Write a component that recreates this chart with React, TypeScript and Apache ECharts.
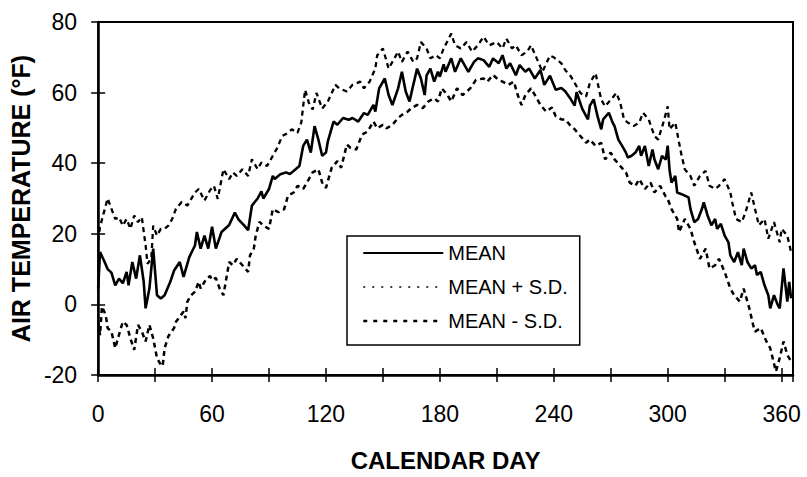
import React, { useEffect, useRef } from 'react';
import * as echarts from 'echarts';

const FONT = '"Liberation Sans", Arial, Helvetica, sans-serif';

const xTicks = [0, 60, 120, 180, 240, 300, 360];
const yTicks = [-20, 0, 20, 40, 60, 80];
const seriesNames = ['MEAN', 'MEAN + S.D.', 'MEAN - S.D.'];

// [calendar day, temperature °F]
const meanSeries = [[0,4.5],[1,14.8],[3,12.5],[5,10],[7,9],[9,5.4],[11,7.3],[13,6],[15,9.2],[16,5.4],[18,12],[20,7.3],[22,13.9],[24,6.4],[25,-1.1],[27,4.5],[29,15.8],[31,2.6],[33,1.7],[35,2.6],[38,6.4],[40,9.6],[43,12],[45,7.8],[48,13.4],[51,16.7],[52,20.5],[54,15.8],[56,19.5],[58,15.8],[60,22],[62,15.8],[65,20.5],[67,21.5],[69,22.5],[72,26],[74,24],[77,22.3],[79,21],[81,28],[84,30],[86,32],[87,30],[90,32.7],[92,36.4],[93,35.5],[96,36.9],[99,37.4],[101,36.9],[104,38.3],[106,39.2],[108,44.9],[110,46.7],[112,43],[114,50.5],[116,46.7],[118,42.1],[120,43],[121,46.2],[124,51.8],[126,50.9],[129,52.8],[132,52.3],[134,52.8],[137,51.8],[140,54.2],[142,53.7],[145,56.5],[146,54.6],[148,61.2],[151,64],[153,59.3],[155,56.5],[158,61.2],[160,65.9],[162,60.3],[164,57.5],[166,62.2],[168,66.8],[170,64],[172,59.3],[173,64.9],[175,66.8],[177,63.1],[179,65.9],[180,64.5],[182,68],[183,65.9],[186,69.7],[188,65.9],[191,69.7],[193,67.8],[195,65.9],[198,68.7],[200,69.7],[203,69.2],[206,67.3],[208,69.7],[211,68.3],[213,70.6],[215,66.8],[217,68.3],[220,64.9],[222,67.8],[225,65.9],[227,66.8],[230,64],[233,66.4],[235,62.2],[238,64.8],[241,60.8],[244,61.3],[246,60.4],[249,58.1],[251,56.3],[252,60.1],[255,55.4],[258,52.4],[259,56.3],[261,58.1],[263,53.4],[265,49.6],[266,52.4],[269,54.3],[271,51.5],[272,50.5],[274,46.7],[276,44.9],[278,43],[279,41.6],[281,42.1],[283,43],[285,44.9],[286,42.1],[288,44.9],[290,39.2],[292,43.9],[293,41.1],[295,38.3],[297,42.1],[299,41],[300,45],[301,38],[302,34.5],[304,36.4],[305,31.7],[307,31.3],[309,30.8],[311,30.3],[312,27],[314,23.3],[316,24.2],[318,27],[319,28.9],[321,25.2],[323,22.4],[325,24.2],[326,21.4],[328,22.8],[330,19.5],[332,17.6],[333,13.9],[335,12],[337,14.8],[339,11.1],[340,15.8],[342,12],[344,10.2],[346,11.1],[347,8.3],[349,9.2],[351,5.4],[353,2.6],[354,-1.1],[356,2.6],[358,-0.2],[359,-1.1],[361,10.2],[363,0.8],[364,6.4],[365,1.7]];

const upperSeries = [[0,18],[1,22],[3,26],[5,30],[7,27.1],[9,24.2],[11,24.7],[13,22.3],[15,24.2],[17,21.4],[19,25.2],[21,23.3],[23,24.7],[25,16.7],[26,11.5],[28,13],[29,22.3],[31,19.5],[33,21.4],[35,21.4],[37,22.3],[39,24.2],[41,27.1],[44,29],[47,28],[51,31.7],[53,32.7],[56,29.4],[59,32.4],[61,33.6],[63,29.9],[66,38.3],[69,35.5],[71,37.4],[73,36.4],[76,38.3],[79,36.4],[81,41.1],[84,38.3],[86,40.2],[89,39.2],[92,42.1],[94,44],[97,47.7],[100,48.6],[102,49.6],[105,48.6],[107,51.5],[109,60.8],[111,57.1],[113,55.2],[115,59.9],[118,55.5],[120,56.8],[121,57.5],[125,62.2],[127,61.2],[131,60.3],[134,62.2],[138,63.1],[140,61.2],[143,63.1],[146,66.8],[147,70.6],[150,72.5],[153,66.8],[155,68.7],[158,71.6],[160,68.7],[163,71.6],[166,68.7],[168,69.7],[170,74.3],[173,72.5],[175,69.7],[178,70.6],[180,69.7],[182,72.5],[186,76.7],[188,73.4],[191,72.5],[194,74.3],[197,71.6],[200,73.4],[203,75.8],[206,73.4],[210,74.3],[213,72.5],[215,75.3],[218,72.5],[220,73.4],[223,70.6],[226,71.6],[228,73.4],[231,69.7],[234,65.9],[238,70.5],[240,70],[244,68.3],[246,66.4],[249,64.6],[252,61.8],[254,59.9],[257,58.9],[259,62.7],[262,65.5],[265,58],[267,56.1],[270,58],[273,59.9],[275,57.1],[277,52.4],[279,51.5],[282,50.5],[285,51.5],[287,54.3],[290,52.4],[293,47.7],[295,46.7],[298,52],[300,56.1],[301,49.6],[304,51.5],[306,45.8],[307,43],[309,38.3],[312,36.4],[314,33.6],[317,36.4],[320,37.8],[322,33.6],[325,32.7],[327,33.6],[330,35.5],[333,31.7],[334,28.9],[336,24.2],[339,23.3],[341,26.1],[344,31.7],[346,27],[348,22.4],[351,24.2],[353,18.6],[356,23.3],[359,17.6],[360,21.4],[363,19.5],[365,14.8]];

const lowerSeries = [[0,-4.8],[1,-8.7],[2,-0.6],[4,-3],[5,-6.7],[7,-7.7],[9,-12.4],[11,-8.6],[13,-4.9],[15,-5.8],[17,-9.6],[19,-12.9],[21,-5.8],[23,-7.7],[25,-10.5],[27,-5.8],[29,-9.6],[31,-15.2],[33,-17.1],[34,-17.5],[35,-12.4],[37,-9],[40,-6.7],[41,-4.9],[43,-3.5],[45,-2],[46,-3.9],[47,0.8],[49,2.6],[51,3.6],[53,6.4],[54,4.5],[57,7.3],[59,8],[60,6.9],[62,7.5],[64,4.5],[66,2.6],[69,12],[71,11.1],[73,12.9],[76,11.1],[79,9.2],[80,13.9],[82,15.8],[83,19.5],[85,23.4],[87,22.3],[90,21.4],[92,27],[95,26.1],[98,27],[100,30.8],[103,31.7],[105,33.6],[108,32.7],[111,35.5],[113,37.4],[116,38.3],[118,34.5],[120,33],[123,38.7],[126,40.6],[128,38.7],[131,45.3],[133,44.3],[136,43.9],[139,48.1],[142,49],[145,51.8],[147,49.9],[150,50.9],[152,49.9],[155,50.9],[158,52.8],[160,53.7],[163,54.6],[165,55.6],[168,56.5],[171,55.6],[174,57.5],[177,58.4],[179,57.5],[181,61.2],[184,59.3],[186,57.5],[189,61.2],[192,59.3],[196,61.2],[199,63.6],[203,64],[205,63.1],[208,65],[211,63.6],[213,63.1],[216,62.2],[219,63.1],[221,59.3],[223,56.5],[225,59.3],[228,61.2],[231,58.4],[233,56.5],[236,54.6],[239,55.8],[241,53.3],[244,52.4],[246,52.4],[249,50.5],[251,49.6],[254,47.7],[257,45.8],[259,46.7],[262,44.9],[265,45.8],[267,41.1],[270,43],[272,41.1],[275,39.2],[278,37.4],[280,34.5],[283,33.6],[285,35.5],[288,32.7],[291,34.5],[293,31.7],[296,33.6],[299,30.5],[300,29.9],[302,27],[305,24.2],[306,20.5],[309,24.2],[312,21.4],[314,17.6],[317,12.9],[320,15.8],[322,10.2],[325,11.1],[327,12.9],[330,9.2],[333,4.5],[335,2.6],[338,0.8],[340,4.5],[343,-1.1],[345,-5.8],[346,-7.7],[349,-6.7],[352,-10.5],[354,-12.4],[357,-19],[359,-15.2],[361,-10.5],[363,-14.3],[365,-16.1]];

export default function App() {
  const ref = useRef<HTMLDivElement>(null);

  useEffect(() => {
    if (!ref.current) return;
    const chart = echarts.init(ref.current, null, { renderer: 'svg' });
    const black = '#000';
    const hidden = { color: 'rgba(0,0,0,0)', borderColor: 'rgba(0,0,0,0)', borderWidth: 0 };
    const xBase = {
      type: 'value',
      min: 0,
      max: 366,
      interval: 30,
      position: 'bottom',
      splitLine: { show: false },
    };
    const yBase = {
      type: 'value',
      min: -20,
      max: 80,
      interval: 20,
      position: 'left',
      splitLine: { show: false },
    };
    chart.setOption({
      animation: false,
      backgroundColor: '#fff',
      textStyle: { fontFamily: FONT, color: black },
      grid: {
        left: 93,
        top: 22,
        right: 14,
        bottom: 100,
        show: true,
        borderColor: black,
        borderWidth: 2,
        backgroundColor: 'transparent',
        containLabel: false,
      },
      xAxis: [
        {
          ...xBase,
          axisLine: { show: true, onZero: false, lineStyle: { color: black, width: 2.5 } },
          axisTick: { show: true, inside: false, length: 7, lineStyle: { color: black, width: 1.5 } },
          axisLabel: {
            formatter: (v: number) => (xTicks.includes(v) ? String(v) : ''),
            fontSize: 23,
            color: black,
            margin: 27,
            fontFamily: FONT,
          },
          name: 'CALENDAR DAY',
          nameLocation: 'middle',
          nameGap: 73,
          nameTextStyle: { fontSize: 24, fontWeight: 'bold', color: black, fontFamily: FONT },
        },
        {
          ...xBase,
          axisLine: { show: false, onZero: false },
          axisTick: { show: true, inside: true, length: 7, lineStyle: { color: black, width: 1.5 } },
          axisLabel: { show: false },
        },
      ],
      yAxis: [
        {
          ...yBase,
          axisLine: { show: true, onZero: false, lineStyle: { color: black, width: 2.5 } },
          axisTick: { show: true, inside: false, length: 7, lineStyle: { color: black, width: 1.5 } },
          axisLabel: {
            formatter: (v: number) => (yTicks.includes(v) ? String(v) : ''),
            fontSize: 23,
            color: black,
            margin: 21,
            fontFamily: FONT,
          },
          name: 'AIR TEMPERATURE (°F)',
          nameLocation: 'middle',
          nameGap: 52,
          nameTextStyle: { fontSize: 25, fontWeight: 'bold', color: black, fontFamily: FONT },
        },
        {
          ...yBase,
          axisLine: { show: false, onZero: false },
          axisTick: { show: true, inside: true, length: 7, lineStyle: { color: black, width: 1.5 } },
          axisLabel: { show: false },
        },
      ],
      legend: {
        orient: 'vertical',
        left: 347,
        top: 236,
        itemWidth: 80,
        itemHeight: 20,
        itemGap: 14,
        padding: [7, 12, 14, 15],
        borderColor: black,
        borderWidth: 1.5,
        backgroundColor: '#fff',
        selectedMode: false,
        textStyle: { fontSize: 20, color: black, fontFamily: FONT },
        data: [
          { name: seriesNames[0], itemStyle: hidden, lineStyle: { color: black, width: 2, type: 'solid' } },
          { name: seriesNames[1], itemStyle: hidden, lineStyle: { color: black, width: 1.5, type: [2, 7] } },
          { name: seriesNames[2], itemStyle: hidden, lineStyle: { color: black, width: 2.5, type: [4, 6] } },
        ],
      },
      series: [
        {
          name: seriesNames[0],
          type: 'line',
          data: meanSeries,
          symbol: 'none',
          z: 4,
          lineStyle: { color: black, width: 2.6 },
          itemStyle: { color: black },
        },
        {
          name: seriesNames[1],
          type: 'line',
          data: upperSeries,
          symbol: 'none',
          z: 3,
          lineStyle: { color: black, width: 2.3, type: [5, 4] },
          itemStyle: { color: black },
        },
        {
          name: seriesNames[2],
          type: 'line',
          data: lowerSeries,
          symbol: 'none',
          z: 3,
          lineStyle: { color: black, width: 2.5, type: [5, 4] },
          itemStyle: { color: black },
        },
      ],
    });
    return () => chart.dispose();
  }, []);

  return (
    <div
      ref={ref}
      style={{ position: 'fixed', left: 0, top: 0, width: 807, height: 477, background: '#fff' }}
    />
  );
}
